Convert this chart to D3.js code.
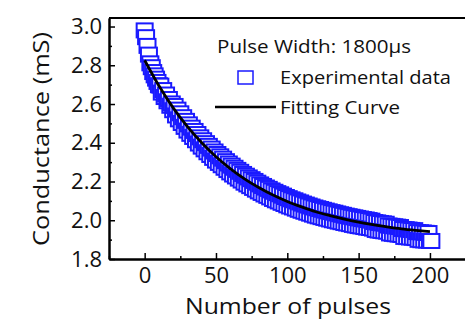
<!DOCTYPE html>
<html>
<head>
<meta charset="utf-8">
<script src="https://cdn.jsdelivr.net/npm/d3@7"></script>
<style>
  html, body { margin: 0; padding: 0; background: #fff; }
  svg { display: block; font-family: "Open Sans", "DejaVu Sans", sans-serif; }
</style>
</head>
<body>
<div id="chart"></div>
<script>
// measured conductance (mS), one value per pulse, pulse 0..200
const conductance = [
  2.980, 2.945, 2.900, 2.855, 2.810, 2.790, 2.765, 2.748, 2.731, 2.714, 2.697,
  2.695, 2.659, 2.672, 2.636, 2.649, 2.614, 2.626, 2.591, 2.603, 2.568,
  2.590, 2.541, 2.571, 2.521, 2.552, 2.502, 2.532, 2.482, 2.513, 2.463,
  2.495, 2.446, 2.478, 2.430, 2.461, 2.413, 2.445, 2.396, 2.428, 2.380,
  2.413, 2.366, 2.398, 2.351, 2.384, 2.337, 2.370, 2.322, 2.355, 2.308,
  2.342, 2.296, 2.330, 2.284, 2.318, 2.271, 2.305, 2.259, 2.293, 2.247,
  2.282, 2.236, 2.271, 2.226, 2.260, 2.215, 2.250, 2.205, 2.239, 2.194,
  2.230, 2.185, 2.221, 2.176, 2.212, 2.167, 2.203, 2.158, 2.194, 2.149,
  2.185, 2.141, 2.177, 2.133, 2.169, 2.126, 2.162, 2.118, 2.154, 2.110,
  2.147, 2.103, 2.140, 2.097, 2.134, 2.090, 2.127, 2.084, 2.120, 2.077,
  2.114, 2.071, 2.108, 2.066, 2.103, 2.060, 2.097, 2.054, 2.092, 2.049,
  2.086, 2.044, 2.081, 2.039, 2.076, 2.034, 2.071, 2.029, 2.066, 2.024,
  2.062, 2.020, 2.058, 2.016, 2.054, 2.012, 2.050, 2.008, 2.046, 2.004,
  2.042, 2.000, 2.039, 1.997, 2.035, 1.993, 2.031, 1.990, 2.028, 1.986,
  2.024, 1.983, 2.021, 1.980, 2.018, 1.976, 2.015, 1.973, 2.012, 1.970,
  2.009, 1.968, 2.006, 1.965, 2.004, 1.962, 2.001, 1.960, 1.998, 1.957,
  1.991, 1.950, 1.989, 1.947, 1.986, 1.945, 1.984, 1.943, 1.982, 1.941,
  1.973, 1.932, 1.971, 1.930, 1.969, 1.928, 1.967, 1.926, 1.965, 1.924,
  1.955, 1.914, 1.954, 1.913, 1.952, 1.911, 1.950, 1.910, 1.949, 1.908,
  1.939, 1.899, 1.938, 1.897, 1.937, 1.896, 1.935, 1.895, 1.934, 1.893, 1.893
];

// fitting curve read every 10 pulses
const fitPulses = [0, 10, 20, 30, 40, 50, 60, 70, 80, 90, 100,
                   110, 120, 130, 140, 150, 160, 170, 180, 190, 200];
const fitValues = [2.826, 2.694, 2.580, 2.483, 2.400, 2.328, 2.267, 2.214, 2.169, 2.130, 2.097,
                   2.069, 2.044, 2.024, 2.006, 1.990, 1.977, 1.966, 1.956, 1.948, 1.941];

const xTicks = [0, 50, 100, 150, 200];
const xMinorTicks = [-25, 25, 75, 125, 175, 225];
const yTicks = [1.8, 2.0, 2.2, 2.4, 2.6, 2.8, 3.0];
const yMinorTicks = [1.9, 2.1, 2.3, 2.5, 2.7, 2.9];

const legendTitle = "Pulse Width: 1800\u03bcs";
const legendLabels = ["Experimental data", "Fitting Curve"];

const width = 465, height = 323;
const margin = { top: 18, left: 109, bottom: 64 };
const plotRight = 487;            // frame runs off the right edge
const blue = "#1a1aff";

const svg = d3.select("#chart").append("svg")
  .attr("width", width)
  .attr("height", height);

const x = d3.scaleLinear().domain([-25, 240]).range([margin.left, plotRight]);
const y = d3.scaleLinear().domain([1.8, 3.044]).range([height - margin.bottom, margin.top]);

// data squares (white filled, drawn in order so later ones cover earlier)
svg.append("g")
  .selectAll("rect")
  .data(conductance)
  .join("rect")
  .attr("x", (d, i) => x(i) - 8)
  .attr("y", d => y(d) - 7)
  .attr("width", 16)
  .attr("height", 14)
  .attr("fill", "#fff")
  .attr("stroke", blue)
  .attr("stroke-width", 2);

// fitting curve
const fitLine = d3.line()
  .x((d, i) => x(fitPulses[i]))
  .y(d => y(d))
  .curve(d3.curveMonotoneX);

svg.append("path")
  .datum(fitValues)
  .attr("d", fitLine)
  .attr("fill", "none")
  .attr("stroke", "#000")
  .attr("stroke-width", 2.8);

// axes, ticks pointing inward
const xAxis = svg.append("g")
  .attr("transform", `translate(0,${y(1.8)})`)
  .call(d3.axisBottom(x).tickValues(xTicks).tickSizeInner(-6).tickSizeOuter(0).tickPadding(8));
const xMinor = svg.append("g")
  .attr("transform", `translate(0,${y(1.8)})`)
  .call(d3.axisBottom(x).tickValues(xMinorTicks).tickSizeInner(-3).tickSizeOuter(0).tickFormat(""));
const yAxis = svg.append("g")
  .attr("transform", `translate(${margin.left},0)`)
  .call(d3.axisLeft(y).tickValues(yTicks).tickSizeInner(-6).tickSizeOuter(0).tickPadding(7)
    .tickFormat(d3.format(".1f")));
const yMinor = svg.append("g")
  .attr("transform", `translate(${margin.left},0)`)
  .call(d3.axisLeft(y).tickValues(yMinorTicks).tickSizeInner(-3).tickSizeOuter(0).tickFormat(""));

[xAxis, xMinor, yAxis, yMinor].forEach(g => {
  g.select(".domain").attr("stroke-width", 2);
  g.selectAll(".tick line").attr("stroke-width", 1.5);
  g.selectAll("text").attr("font-size", 22).attr("fill", "#111")
    .style("font-family", "'Open Sans', sans-serif");
});

// top frame line
svg.append("line")
  .attr("x1", margin.left).attr("x2", plotRight)
  .attr("y1", y(3.044)).attr("y2", y(3.044))
  .attr("stroke", "#000").attr("stroke-width", 2);

// axis titles (stretched a little to match the wide original lettering)
svg.append("text")
  .attr("x", 288)
  .attr("y", 314)
  .attr("text-anchor", "middle")
  .attr("font-size", 22)
  .attr("fill", "#111")
  .attr("textLength", 206)
  .attr("lengthAdjust", "spacingAndGlyphs")
  .text("Number of pulses");

svg.append("text")
  .attr("transform", `translate(49,139) rotate(-90)`)
  .attr("text-anchor", "middle")
  .attr("font-size", 22)
  .attr("fill", "#111")
  .attr("textLength", 214)
  .attr("lengthAdjust", "spacingAndGlyphs")
  .text("Conductance (mS)");

// legend
const legend = svg.append("g");
legend.append("text")
  .attr("x", 217).attr("y", 53)
  .attr("font-size", 18).attr("fill", "#111")
  .attr("textLength", 194).attr("lengthAdjust", "spacingAndGlyphs")
  .text(legendTitle);

legend.append("rect")
  .attr("x", 238).attr("y", 71)
  .attr("width", 15).attr("height", 13)
  .attr("fill", "#fff").attr("stroke", blue).attr("stroke-width", 1.5);
legend.append("text")
  .attr("x", 280).attr("y", 84)
  .attr("font-size", 18).attr("fill", "#111")
  .attr("textLength", 171).attr("lengthAdjust", "spacingAndGlyphs")
  .text(legendLabels[0]);

legend.append("line")
  .attr("x1", 215).attr("x2", 276)
  .attr("y1", 107).attr("y2", 107)
  .attr("stroke", "#000").attr("stroke-width", 2.5);
legend.append("text")
  .attr("x", 280).attr("y", 114)
  .attr("font-size", 18).attr("fill", "#111")
  .attr("textLength", 120).attr("lengthAdjust", "spacingAndGlyphs")
  .text(legendLabels[1]);
</script>
</body>
</html>
